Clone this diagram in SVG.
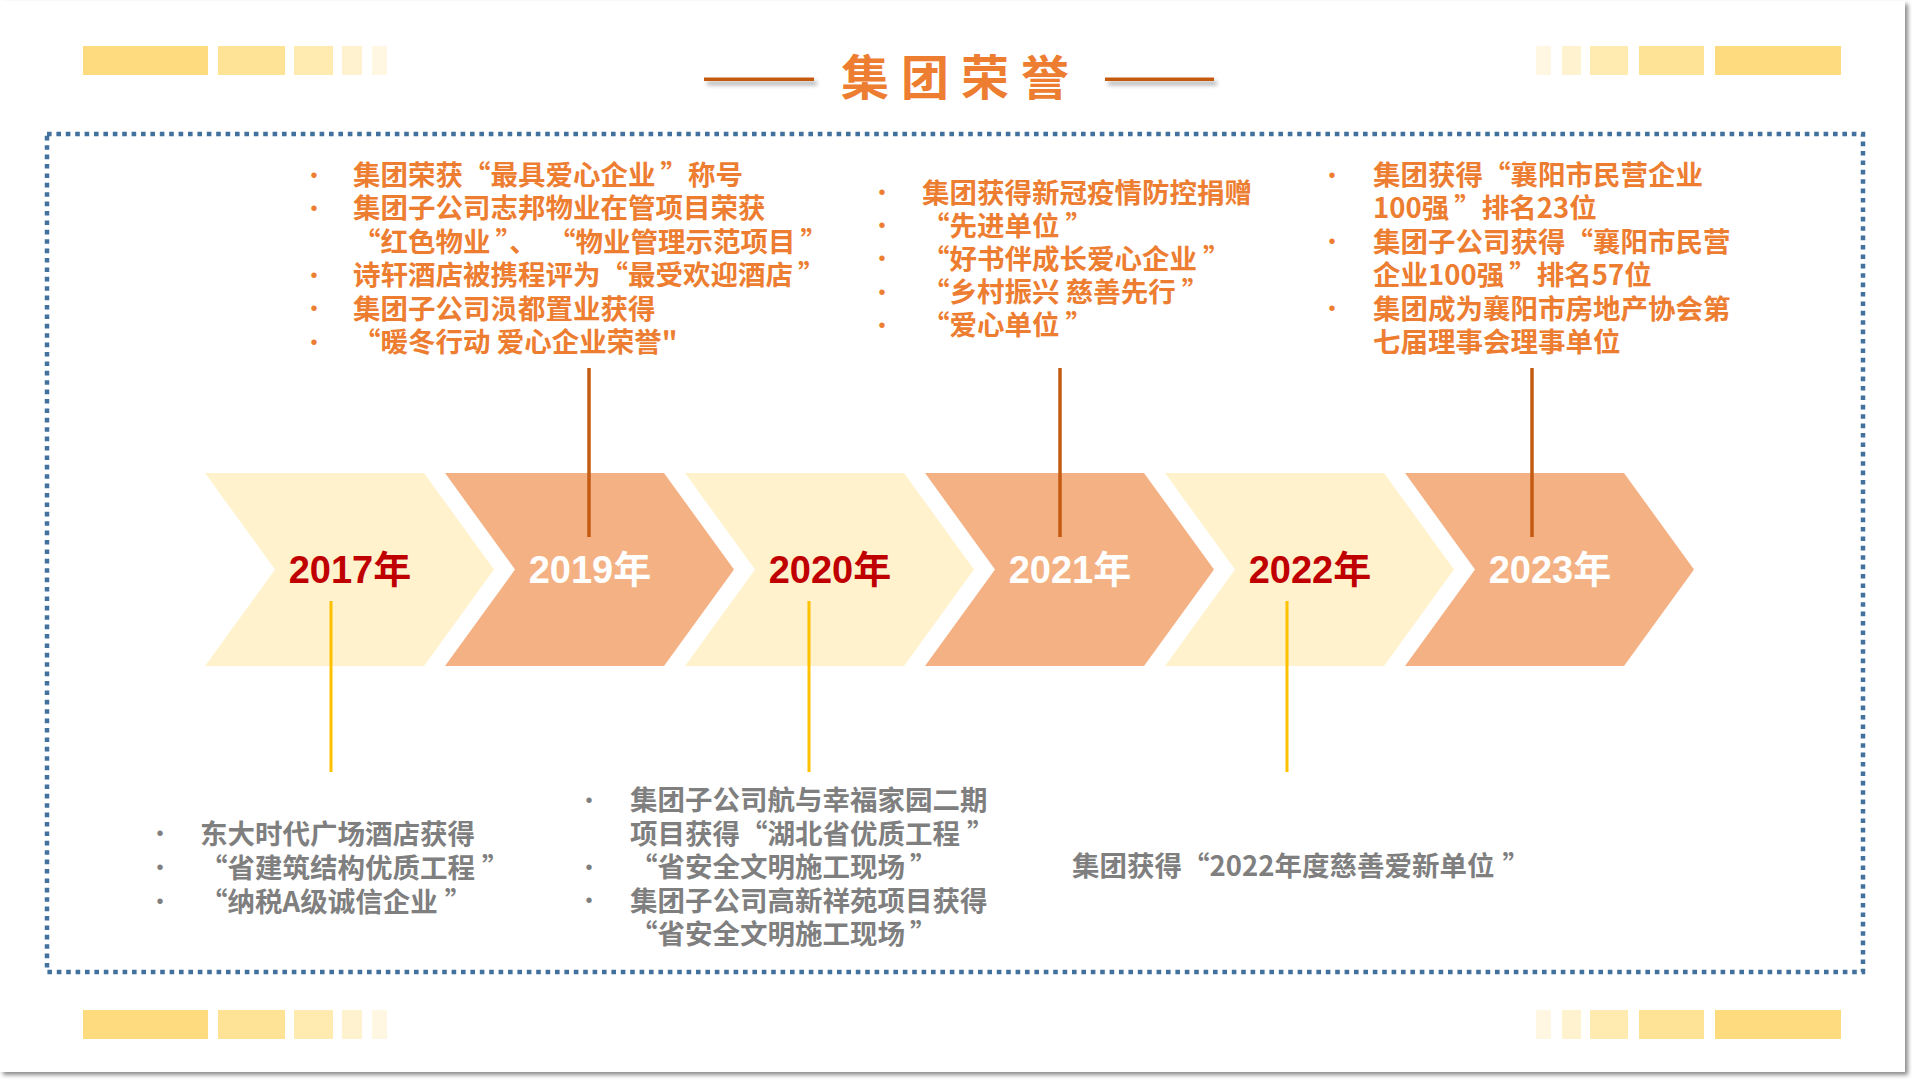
<svg xmlns="http://www.w3.org/2000/svg" width="1920" height="1086" viewBox="0 0 1920 1086">
<defs>
<filter id="slideShadow" x="-2%" y="-2%" width="104%" height="104%">
<feDropShadow dx="3" dy="3" stdDeviation="2" flood-color="#000" flood-opacity="0.45"/>
</filter>
<filter id="lineShadow" filterUnits="userSpaceOnUse" x="680" y="60" width="560" height="50">
<feDropShadow dx="3" dy="4" stdDeviation="2" flood-color="#000" flood-opacity="0.35"/>
</filter>
</defs>
<style>
.b1{fill:#FFDB7F}.b2{fill:#FEE397}.b3{fill:#FFEAB0}.b4{fill:#FFF2CF}.b5{fill:#FFF7E1}
.cream{fill:#FFF2CC}.salmon{fill:#F4B183}
.year{font-family:"Liberation Sans","Noto Sans CJK SC",sans-serif;font-weight:700;font-size:38px;text-anchor:middle}
.yr{fill:#C00000}.yw{fill:#FFFFFF}
.txt{font-family:"Noto Sans CJK SC","Liberation Sans",sans-serif;font-weight:700;font-size:27.5px}
.or{fill:#ED7D31}.gr{fill:#7F7F7F}
.bul{font-family:"Liberation Sans",sans-serif;font-size:20px;text-anchor:middle}
.ctop{stroke:#C55A11;stroke-width:3.5;fill:none}
.cbot{stroke:#FFC000;stroke-width:3;fill:none}
.tline{fill:#C55A11}
</style>
<rect x="0" y="0" width="1920" height="1086" fill="#FFFFFF"/>
<rect x="0" y="1" width="1905" height="1071" fill="#FFFFFF" filter="url(#slideShadow)"/>

<g id="deco-top-left">
<rect class="b1" x="83" y="46" width="125" height="29"/>
<rect class="b2" x="218" y="46" width="67" height="29"/>
<rect class="b3" x="294" y="46" width="39" height="29"/>
<rect class="b4" x="342" y="46" width="20" height="29"/>
<rect class="b5" x="372" y="46" width="15" height="29"/>
</g>
<g id="deco-top-right">
<rect class="b5" x="1536" y="46" width="15" height="29"/>
<rect class="b4" x="1562" y="46" width="19" height="29"/>
<rect class="b3" x="1590" y="46" width="38" height="29"/>
<rect class="b2" x="1639" y="46" width="65" height="29"/>
<rect class="b1" x="1715" y="46" width="126" height="29"/>
</g>
<g id="deco-bottom-left">
<rect class="b1" x="83" y="1010" width="125" height="29"/>
<rect class="b2" x="218" y="1010" width="67" height="29"/>
<rect class="b3" x="294" y="1010" width="39" height="29"/>
<rect class="b4" x="342" y="1010" width="20" height="29"/>
<rect class="b5" x="372" y="1010" width="15" height="29"/>
</g>
<g id="deco-bottom-right">
<rect class="b5" x="1536" y="1010" width="15" height="29"/>
<rect class="b4" x="1562" y="1010" width="19" height="29"/>
<rect class="b3" x="1590" y="1010" width="38" height="29"/>
<rect class="b2" x="1639" y="1010" width="65" height="29"/>
<rect class="b1" x="1715" y="1010" width="126" height="29"/>
</g>

<g id="title">
<rect class="tline" x="704" y="77.5" width="110" height="3.5" filter="url(#lineShadow)"/>
<rect class="tline" x="1105" y="77.5" width="109" height="3.5" filter="url(#lineShadow)"/>
<text x="841" y="95" font-family="'Noto Sans CJK SC',sans-serif" font-weight="700" font-size="48" letter-spacing="12" fill="#ED7D31">集团荣誉</text>
</g>

<rect id="frame" x="47" y="134" width="1816" height="838" fill="none" stroke="#41719C" stroke-width="4.5" stroke-dasharray="4.6 4.8"/>

<g id="chevrons">
<g id="y2017"><polygon class="cream" points="205,473 424,473 494,569.5 424,666 205,666 275,569.5"/><text class="year yr" x="350" y="583">2017年</text></g>
<g id="y2019"><polygon class="salmon" points="445,473 664,473 734,569.5 664,666 445,666 515,569.5"/><text class="year yw" x="590" y="583">2019年</text></g>
<g id="y2020"><polygon class="cream" points="685,473 904,473 974,569.5 904,666 685,666 755,569.5"/><text class="year yr" x="830" y="583">2020年</text></g>
<g id="y2021"><polygon class="salmon" points="925,473 1144,473 1214,569.5 1144,666 925,666 995,569.5"/><text class="year yw" x="1070" y="583">2021年</text></g>
<g id="y2022"><polygon class="cream" points="1165,473 1384,473 1454,569.5 1384,666 1165,666 1235,569.5"/><text class="year yr" x="1310" y="583">2022年</text></g>
<g id="y2023"><polygon class="salmon" points="1405,473 1624,473 1694,569.5 1624,666 1405,666 1475,569.5"/><text class="year yw" x="1550" y="583">2023年</text></g>
</g>

<g id="connectors">
<line class="ctop" x1="589" y1="368" x2="589" y2="537"/>
<line class="ctop" x1="1060" y1="368" x2="1060" y2="537"/>
<line class="ctop" x1="1532" y1="368" x2="1532" y2="537"/>
<line class="cbot" x1="331" y1="601" x2="331" y2="772"/>
<line class="cbot" x1="809" y1="601" x2="809" y2="772"/>
<line class="cbot" x1="1287" y1="601" x2="1287" y2="772"/>
</g>

<g id="text-2019">
<text class="bul or" x="314" y="181.5">•</text>
<text class="bul or" x="314" y="215">•</text>
<text class="bul or" x="314" y="281.5">•</text>
<text class="bul or" x="314" y="315">•</text>
<text class="bul or" x="314" y="348.5">•</text>
<text class="txt or" x="353" y="185">集团荣获“最具爱心企业<tspan dx="5">”</tspan>称号</text>
<text class="txt or" x="353" y="218.4">集团子公司志邦物业在管项目荣获</text>
<text class="txt or" x="353" y="251.8">“红色物业<tspan dx="5">”</tspan>、<tspan dx="25">“</tspan>物业管理示范项目<tspan dx="5">”</tspan></text>
<text class="txt or" x="353" y="285.2">诗轩酒店被携程评为“最受欢迎酒店<tspan dx="5">”</tspan></text>
<text class="txt or" x="353" y="318.6">集团子公司涢都置业获得</text>
<text class="txt or" x="353" y="352">“暖冬行动 爱心企业荣誉"</text>
</g>

<g id="text-2021">
<text class="bul or" x="882" y="199">•</text>
<text class="bul or" x="882" y="232.2">•</text>
<text class="bul or" x="882" y="265.4">•</text>
<text class="bul or" x="882" y="298.6">•</text>
<text class="bul or" x="882" y="331.8">•</text>
<text class="txt or" x="922" y="202.5">集团获得新冠疫情防控捐赠</text>
<text class="txt or" x="922" y="235.7">“先进单位<tspan dx="6">”</tspan></text>
<text class="txt or" x="922" y="268.9">“好书伴成长爱心企业<tspan dx="6">”</tspan></text>
<text class="txt or" x="922" y="302.1">“乡村振兴 慈善先行<tspan dx="6">”</tspan></text>
<text class="txt or" x="922" y="335.3">“爱心单位<tspan dx="6">”</tspan></text>
</g>

<g id="text-2023">
<text class="bul or" x="1332" y="181.5">•</text>
<text class="bul or" x="1332" y="248.3">•</text>
<text class="bul or" x="1332" y="315">•</text>
<text class="txt or" x="1373" y="185">集团获得“襄阳市民营企业</text>
<text class="txt or" x="1373" y="218.4">100强<tspan dx="5">”</tspan>排名23位</text>
<text class="txt or" x="1373" y="251.8">集团子公司获得“襄阳市民营</text>
<text class="txt or" x="1373" y="285.2">企业100强<tspan dx="5">”</tspan>排名57位</text>
<text class="txt or" x="1373" y="318.6">集团成为襄阳市房地产协会第</text>
<text class="txt or" x="1373" y="352">七届理事会理事单位</text>
</g>

<g id="text-2017">
<text class="bul gr" x="160" y="840">•</text>
<text class="bul gr" x="160" y="874">•</text>
<text class="bul gr" x="160" y="908">•</text>
<text class="txt gr" x="200" y="843.5">东大时代广场酒店获得</text>
<text class="txt gr" x="200" y="877.5">“省建筑结构优质工程<tspan dx="7">”</tspan></text>
<text class="txt gr" x="200" y="911.5">“纳税A级诚信企业<tspan dx="7">”</tspan></text>
</g>

<g id="text-2020">
<text class="bul gr" x="589" y="806.5">•</text>
<text class="bul gr" x="589" y="873.5">•</text>
<text class="bul gr" x="589" y="907">•</text>
<text class="txt gr" x="630" y="810">集团子公司航与幸福家园二期</text>
<text class="txt gr" x="630" y="843.5">项目获得“湖北省优质工程<tspan dx="7">”</tspan></text>
<text class="txt gr" x="630" y="877">“省安全文明施工现场<tspan dx="5">”</tspan></text>
<text class="txt gr" x="630" y="910.5">集团子公司高新祥苑项目获得</text>
<text class="txt gr" x="630" y="944">“省安全文明施工现场<tspan dx="5">”</tspan></text>
</g>

<g id="text-2022">
<text class="txt gr" x="1072" y="876">集团获得“2022年度慈善爱新单位<tspan dx="8">”</tspan></text>
</g>
</svg>
